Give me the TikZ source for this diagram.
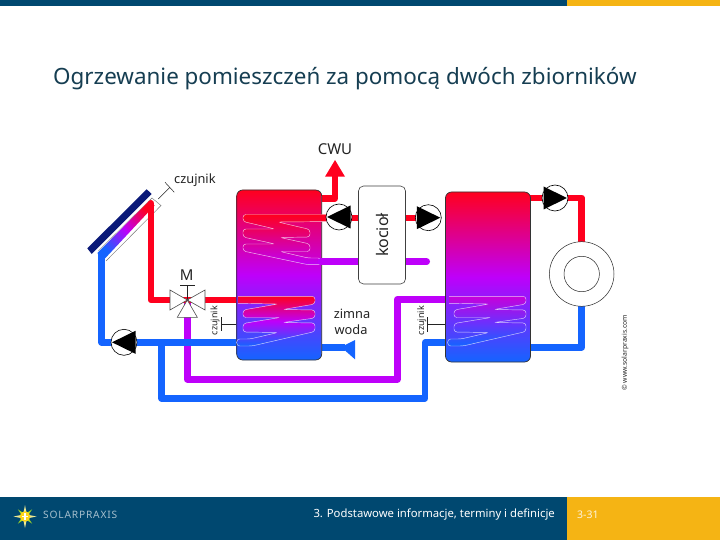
\documentclass[tikz,border=0pt]{standalone}
\usepackage{fontspec}
\setmainfont{Noto Sans}
\definecolor{navy}{RGB}{0,72,112}
\definecolor{gold}{RGB}{245,180,20}
\definecolor{hot}{RGB}{255,0,30}
\definecolor{mid}{RGB}{190,0,250}
\definecolor{cold}{RGB}{20,100,255}
\definecolor{inkc}{RGB}{35,35,35}
\definecolor{titlec}{RGB}{22,62,82}
\definecolor{absorber}{RGB}{10,25,120}
\tikzset{
  pipebase/.style={line width=6.6pt,line join=round,line cap=round},
  hotpipe/.style={pipebase,draw=hot},
  midpipe/.style={pipebase,draw=mid},
  coldpipe/.style={pipebase,draw=cold},
  tankbox/.style={draw=black!80,line width=0.7pt,rounded corners=6pt,minimum width=85pt,minimum height=170pt,inner sep=0pt},
  pumpnode/.style={circle,draw=black,fill=white,line width=0.6pt,minimum size=26pt,inner sep=0pt},
  bigring/.style={circle,draw=black!85,fill=white,line width=0.5pt,inner sep=0pt},
  boilerbox/.style={draw=black!75,fill=white,line width=0.6pt,rounded corners=5pt,minimum width=47pt,minimum height=98pt,inner sep=0pt},
  coil/.style={draw=white,draw opacity=0.75,line width=0.45pt,rounded corners=3pt},
  label/.style={text=inkc,inner sep=0pt,font=\fontsize{12.8}{14}\selectfont},
  bigl/.style={text=inkc,inner sep=0pt,font=\fontsize{15}{17}\selectfont},
  tinyl/.style={text=inkc,inner sep=0pt,font=\fontsize{9}{10}\selectfont},
  sensor/.style={draw=inkc,line width=0.5pt},
  valvetri/.style={draw=black!70,fill=white,line width=0.6pt,line join=miter},
}
\newcommand{\pumpleft}[1]{\fill[black] ([shift={(-12,0)}]#1.center) -- ([shift={(11.5,-11.5)}]#1.center) -- ([shift={(11.5,11.5)}]#1.center) -- cycle;}
\newcommand{\pumpright}[1]{\fill[black] ([shift={(12,0)}]#1.center) -- ([shift={(-11.5,-11.5)}]#1.center) -- ([shift={(-11.5,11.5)}]#1.center) -- cycle;}
\newcommand{\lowercoilpath}{(238,296.3) -- (315,296.3) -- (315,304) -- (283,309.5) -- (315,310) -- (315,318) -- (283,322.5) -- (315,323) -- (315,331.5) -- (252,346) -- (236.7,346) -- (236.7,339) -- (250,339) -- (278,332.5) -- (243,332) -- (243,323.5) -- (280,317.5) -- (243,317.5) -- (243,310) -- (278,304) -- (238,303.3)}
\begin{document}
\begin{tikzpicture}[x=1pt,y=-1pt]
\useasboundingbox (0,0) rectangle (720,540);
\fill[white] (0,0) rectangle (720,540);
% bars
\fill[navy] (0,0) rectangle (567,6);
\fill[gold] (567,0) rectangle (720,6);
\fill[navy] (0,497) rectangle (567,540);
\fill[gold] (567,497) rectangle (720,540);
% title
\node[anchor=west,inner sep=0pt,text=titlec,font=\fontsize{22.4}{26}\selectfont] (title) at (53,79) {Ogrzewanie pomieszczeń za pomocą dwóch zbiorników};
% coordinates
\coordinate (collTop) at (151,203.3);
\coordinate (collLow) at (101.7,255);
\coordinate (valve) at (187.3,300);
\coordinate (junct) at (161.7,342.3);
\coordinate (cwuTop) at (335,176);
% collector
\draw[black!55,line width=0.4pt] (98.3,251) -- (152,198) -- (161,205.5) -- (106,261);
\fill[absorber] (87.3,248.3) -- (91.7,254) -- (151.7,194) -- (146.7,189.3) -- cycle;
% layout anchors for connectors
\path (382,235) node[boilerbox,draw=none,fill=none] (boiler) {};
% pipes
\draw[midpipe] (valve) -- (187.3,379.3) -- (397.3,379.3) -- (397.3,299.3) -- (447,299.3);
\draw[coldpipe,line cap=butt] (101.7,255) -- (101.7,342.3) -- (236.7,342.3);
\draw[coldpipe] (junct) -- (161.7,398.3) -- (425,398.3) -- (425,342.7) -- (447,342.7);
\draw[hotpipe] (collTop) -- (151,300) -- (valve);
\draw[hotpipe] (valve) -- (240,300);
\draw[hotpipe,line cap=butt] (321.7,198.3) -- (335,198.3) -- (cwuTop);
\fill[hot] (335,160) -- (345,176.7) -- (325,176.7) -- cycle;
\draw[hotpipe,line cap=butt] (boiler.east |- 0,218) -- (428,218);
\draw[coldpipe,line cap=butt] (321.7,347.2) -- (345,347.2);
\fill[cold] (341,347) -- (355,340) -- (355,359.3) -- cycle;
\draw[hotpipe] (530.7,198) -- (581.7,198) -- (581.7,243);
\draw[coldpipe] (581.7,306) -- (581.7,347.3) -- (530.7,347.3);
% absorber stripe
\shade[top color=hot,bottom color=cold,middle color=mid,shading angle=-45] (97.5,253) -- (149,201) -- (154.5,205.5) -- (104.5,259) -- (100,259) -- cycle;
% tanks
\node[tankbox,top color=hot,bottom color=cold,middle color=mid] (tankAv) at (279.2,275) {};
\node[tankbox,top color=hot,bottom color=cold,middle color=mid] (tankBv) at (488,277) {};
% coils
\path[coil,top color=hot,bottom color=mid] (336,214.5) -- (243,214.5) -- (243,221.5) -- (275,229) -- (243,229) -- (243,237) -- (275,244) -- (243,244) -- (243,251) -- (308,264.7) -- (321,264.7) -- (321,258) -- (308,258) -- (280,251.5) -- (310,251.5) -- (310,244) -- (280,237.5) -- (310,237) -- (310,229.5) -- (278,222) -- (336,221.5);
\path[coil,top color=hot,bottom color=cold,middle color=mid] \lowercoilpath;
\begin{scope}[xshift=211pt]
\path[coil,top color=mid!85!hot,bottom color=cold,middle color=mid!55!cold] \lowercoilpath;
\end{scope}
% pipes over tank edge towards boiler
\draw[midpipe] (321,261.7) -- (426.7,261.7);
\draw[hotpipe,line cap=butt] (321,218) -- (boiler.west |- 0,218);
% boiler
\node[boilerbox] (boilerv) at (382,235) {};
\node[bigl,rotate=90,font=\fontsize{16}{18}\selectfont] (kociol) at (382,235) {kocioł};
% pumps
\node[pumpnode] (pumpA) at (339,217) {};
\pumpleft{pumpA}
\node[pumpnode] (pumpB) at (428.3,217.7) {};
\pumpright{pumpB}
\node[pumpnode] (pumpC) at (555,198) {};
\pumpright{pumpC}
\node[pumpnode] (pumpD) at (124,342.3) {};
\pumpleft{pumpD}
% ring
\node[bigring,minimum size=64.6pt] (ringv) at (581.7,274) {};
\node[bigring,minimum size=35.4pt] (ringi) at (581.7,274) {};
% valve
\draw[valvetri] (170,290) -- (170,310) -- (valve) -- cycle;
\draw[valvetri] (205,290) -- (205,310) -- (valve) -- cycle;
\draw[valvetri] (valve) -- (177.3,317.3) -- (197.3,317.3) -- cycle;
\coordinate (stem) at (187.3,285);
\draw[sensor] (valve) -- (stem);
\draw[sensor] (180,285) -- (195,285);
\fill[black!70] (valve) circle (1.2pt);
% sensors
\node[label,anchor=west] (s1) at (174,180) {czujnik};
\coordinate (s1a) at (158.3,199);
\coordinate (s1b) at (170,187.3);
\draw[sensor] (s1a) -- (s1b);
\draw[sensor] (165,182.3) -- (174.3,192.3);
\node[tinyl,rotate=90] (s2) at (215,320.7) {czujnik};
\coordinate (s2b) at (221.7,324);
\draw[sensor] (s2b) -- (tankAv.west |- s2b);
\draw[sensor] (221.7,317) -- (221.7,331);
\node[tinyl,rotate=90] (s3) at (421.7,320.7) {czujnik};
\coordinate (s3b) at (427.3,324);
\draw[sensor] (s3b) -- (tankBv.west |- s3b);
\draw[sensor] (427.3,317) -- (427.3,331.5);
% labels
\node[bigl] (cwu) at (335,149) {CWU};
\node[bigl] (mm) at (186.7,275) {M};
\node[label] (zim) at (352,314) {zimna};
\node[label] (wod) at (351,330) {woda};
\node[text=inkc,inner sep=0pt,rotate=90,font=\fontsize{6.8}{8}\selectfont] (copy) at (625,352.7) {© www.solarpraxis.com};
% footer
\node[anchor=east,inner sep=0pt,text=white,font=\fontsize{11.3}{14}\selectfont] (foot) at (555,515) {3. Podstawowe informacje, terminy i definicje};
\node[anchor=west,inner sep=0pt,text=white!85!gold,font=\fontsize{10.5}{13}\selectfont] (pg) at (577,515) {3-31};
% logo
\coordinate (sun) at (25,516.5);
\foreach \a in {0,90,180,270}{
  \fill[rotate around={\a:(sun)},yellow!45!white!85!gray] ([shift={(-1.5,-4)}]sun) -- ([shift={(0,-11.5)}]sun) -- ([shift={(1.5,-4)}]sun) -- cycle;
}
\foreach \a in {45,135,225,315}{
  \fill[rotate around={\a:(sun)},green!30!yellow!70!gray] ([shift={(-1.2,-4)}]sun) -- ([shift={(0,-10)}]sun) -- ([shift={(1.2,-4)}]sun) -- cycle;
}
\fill[yellow!70!orange!90!white] (sun) circle (5.3pt);
\fill[white] ([shift={(-3.2,-0.9)}]sun) rectangle ([shift={(3.2,0.9)}]sun);
\fill[white] ([shift={(-0.9,-3.2)}]sun) rectangle ([shift={(0.9,3.2)}]sun);
\node[anchor=west,inner sep=0pt,text=white!65!navy,font={\fontsize{10.2}{11}\selectfont\addfontfeature{LetterSpace=8}}] (logo) at (43,515) {SOLARPRAXIS};
\end{tikzpicture}
\end{document}
